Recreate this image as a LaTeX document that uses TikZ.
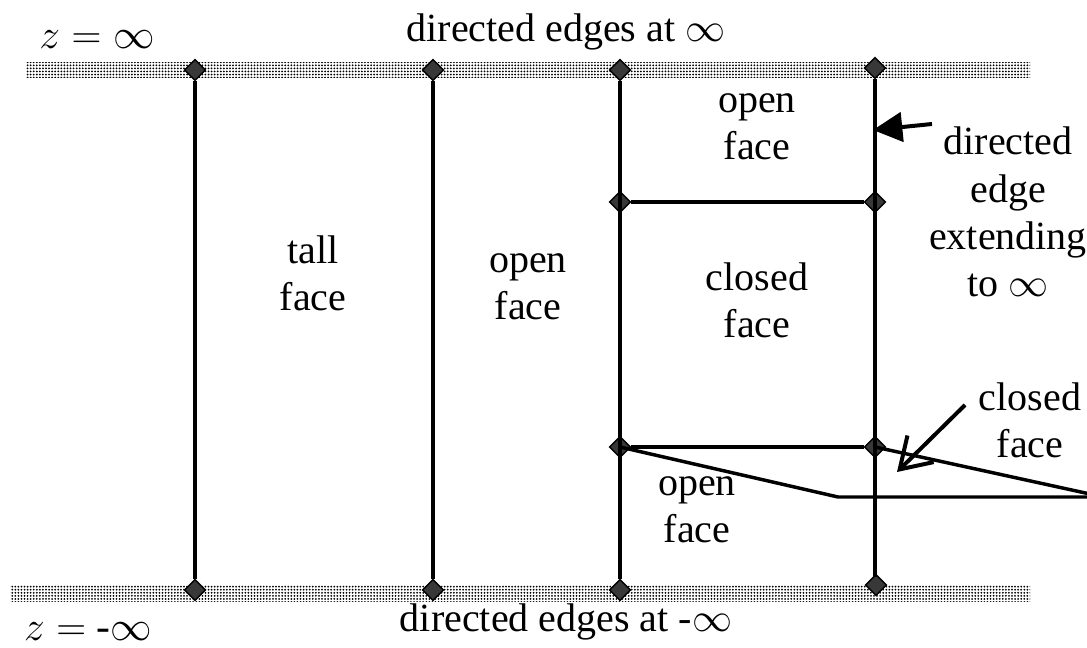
\documentclass[tikz,border=0pt]{standalone}
\usepackage{graphicx}
\usepackage{fontspec}
\setmainfont{Liberation Serif}
\usetikzlibrary{shapes.geometric,patterns.meta,arrows.meta}
% math infinity brought up to the 30pt text size
\newcommand\infsym{\scalebox{1.206}{$\infty$}}
\begin{document}
\begin{tikzpicture}[x=0.75pt,y=-0.75pt,
  vert/.style={diamond,draw=black,fill=black!78,line width=1pt,minimum width=16pt,minimum height=16pt,inner sep=0pt},
  edge/.style={line width=3pt},
  thinedge/.style={line width=2.6pt},
  lbl/.style={font=\fontsize{30}{35.5}\selectfont,align=center,inner sep=0pt},
  zlbl/.style={font=\fontsize{24.88}{30}\selectfont,inner sep=0pt,scale=1.25},
  band/.style={pattern={Dots[distance=2.3pt,radius=0.75pt]}}]
\useasboundingbox (0,0) rectangle (1087,648);
\clip (0,0) rectangle (1087,648);

% dotted bands at z = +inf and z = -inf
\fill[band] (26,63) rectangle (1030,78);
\fill[band] (10,585) rectangle (1030,601);

% vertices
\node[vert] (t1) at (195,70) {};
\node[vert] (t2) at (433,70) {};
\node[vert] (t3) at (620,70) {};
\node[vert] (t4) at (875,68) {};
\node[vert] (b1) at (195,590) {};
\node[vert] (b2) at (433,590) {};
\node[vert] (b3) at (620,590) {};
\node[vert] (b4) at (876,585) {};
\node[vert] (m3) at (620,202) {};
\node[vert] (m4) at (875,202) {};
\node[vert] (l3) at (620,447) {};
\node[vert] (l4) at (875,447) {};
\coordinate (k) at (838,497);
\coordinate (r1) at (1090,497);
\coordinate (r2) at (1090,494);
\coordinate (e4) at (875,577);

% vertical edges
\draw[edge] (t1) -- (b1);
\draw[edge] (t2) -- (b2);
\draw[edge] (t3) -- (b3);
\draw[edge] (t4) -- (e4);
% horizontal and slanted edges
\draw[thinedge] (m3) -- (m4);
\draw[thinedge] (l3) -- (l4);
\draw[thinedge] (l3.center) -- (k) -- (r1);
\draw[thinedge] (l4.center) -- (r2);

% text
\node[zlbl] (zt) at (97,40) {$z = \infty$};
\node[zlbl] (zb) at (88,632) {$z = $ -$\infty$};
\node[lbl] (dt) at (566,32) {directed edges at \infsym};
\node[lbl] (db) at (566,622) {directed edges at -\infsym};
\node[lbl] (tall) at (313,273) {tall\\face};
\node[lbl] (of1) at (528,287) {open\\face};
\node[lbl] (of2) at (757,127) {open\\face};
\node[lbl] (cf1) at (757,300) {closed\\face};
\node[lbl] (of3) at (697,510) {open\\face};
\node[lbl] (de) at (1008,212) {directed\\edge\\extending\\to \infsym};
\node[lbl] (cf2) at (1030,420) {closed\\face};

% pointers
\coordinate (a1) at (932,124);
\coordinate (a1t) at (873,130);
\draw[edge,-{Triangle[length=22pt,width=22pt]}] (a1) -- (a1t);
\coordinate (a2) at (965,405);
\coordinate (a2t) at (897,472);
\draw[edge,-{Straight Barb[length=22pt,width=28pt]}] (a2) -- (a2t);
\end{tikzpicture}
\end{document}
